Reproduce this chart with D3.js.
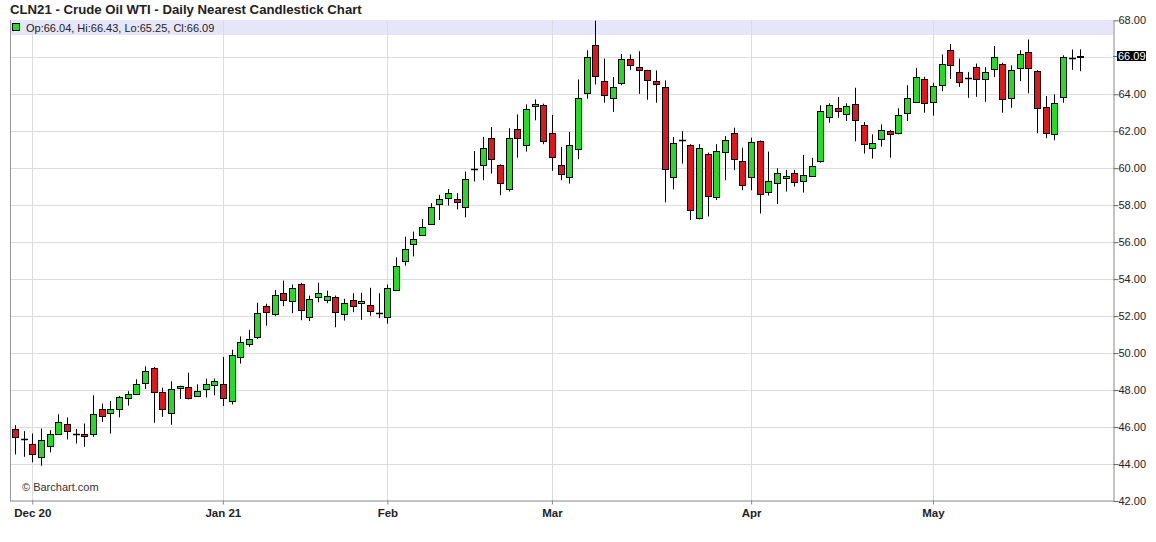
<!DOCTYPE html>
<html>
<head>
<meta charset="utf-8">
<script src="https://cdn.jsdelivr.net/npm/d3@7"></script>
<style>
  html, body { margin: 0; padding: 0; background: #fff; }
  svg { display: block; font-family: "Liberation Sans", Arial, sans-serif; }
</style>
</head>
<body>
<svg id="chart" width="1156" height="542"></svg>
<script>
// ---- Data ----
const dates = [
  "2020-11-27","2020-11-30",
  "2020-12-01","2020-12-02","2020-12-03","2020-12-04","2020-12-07","2020-12-08","2020-12-09","2020-12-10","2020-12-11",
  "2020-12-14","2020-12-15","2020-12-16","2020-12-17","2020-12-18","2020-12-21","2020-12-22","2020-12-23","2020-12-24",
  "2020-12-28","2020-12-29","2020-12-30","2020-12-31",
  "2021-01-04","2021-01-05","2021-01-06","2021-01-07","2021-01-08","2021-01-11","2021-01-12","2021-01-13","2021-01-14",
  "2021-01-15","2021-01-19","2021-01-20","2021-01-21","2021-01-22","2021-01-25","2021-01-26","2021-01-27","2021-01-28","2021-01-29",
  "2021-02-01","2021-02-02","2021-02-03","2021-02-04","2021-02-05","2021-02-08","2021-02-09","2021-02-10","2021-02-11","2021-02-12",
  "2021-02-16","2021-02-17","2021-02-18","2021-02-19","2021-02-22","2021-02-23","2021-02-24","2021-02-25","2021-02-26",
  "2021-03-01","2021-03-02","2021-03-03","2021-03-04","2021-03-05","2021-03-08","2021-03-09","2021-03-10","2021-03-11","2021-03-12",
  "2021-03-15","2021-03-16","2021-03-17","2021-03-18","2021-03-19","2021-03-22","2021-03-23","2021-03-24","2021-03-25","2021-03-26",
  "2021-03-29","2021-03-30","2021-03-31",
  "2021-04-01","2021-04-05","2021-04-06","2021-04-07","2021-04-08","2021-04-09","2021-04-12","2021-04-13","2021-04-14","2021-04-15",
  "2021-04-16","2021-04-19","2021-04-20","2021-04-21","2021-04-22","2021-04-23","2021-04-26","2021-04-27","2021-04-28","2021-04-29","2021-04-30",
  "2021-05-03","2021-05-04","2021-05-05","2021-05-06","2021-05-07","2021-05-10","2021-05-11","2021-05-12","2021-05-13","2021-05-14",
  "2021-05-17","2021-05-18","2021-05-19","2021-05-20","2021-05-21","2021-05-24","2021-05-25","2021-05-26"
];
const open = [
  45.89,45.35,
  45.06,44.36,44.95,45.60,46.14,45.62,45.60,45.65,46.95,46.73,46.95,47.58,47.81,48.40,49.21,47.92,46.79,48.08,48.17,47.70,48.08,48.30,
  48.35,47.38,49.81,50.51,50.88,52.54,52.13,53.26,52.83,53.74,51.94,53.02,52.88,53.06,52.13,52.88,52.72,52.61,52.16,
  51.96,53.42,54.98,55.90,56.42,57.01,58.08,58.38,58.33,57.88,59.98,60.16,61.62,60.16,58.87,62.10,61.24,63.35,63.40,
  61.89,60.16,59.53,61.03,64.10,66.64,64.69,63.76,64.62,65.88,65.50,65.29,64.69,64.37,59.53,61.54,61.24,57.34,60.76,58.45,60.88,61.89,60.38,
  59.48,61.47,58.74,59.19,59.46,59.73,59.32,59.55,60.36,62.75,63.24,62.91,63.45,62.32,61.06,61.62,62.01,61.89,62.95,63.61,64.80,
  63.54,64.48,66.37,65.18,64.86,65.50,64.83,65.37,65.66,63.76,65.43,66.27,65.25,63.29,61.84,63.81,65.97,66.04
];
const high = [
  46.10,45.78,
  45.65,45.92,45.83,46.69,46.52,45.90,46.19,47.72,47.27,47.41,47.68,47.94,48.58,49.28,49.25,48.13,48.47,48.24,48.94,48.31,48.62,48.62,
  49.79,50.18,50.90,51.26,52.72,52.67,53.42,53.92,53.71,53.80,53.11,53.81,53.38,53.11,52.94,53.24,53.26,53.53,53.24,
  53.70,55.18,56.30,56.57,57.25,58.11,58.56,58.87,58.65,59.82,60.93,61.69,62.23,60.22,62.16,62.91,63.45,63.72,63.49,
  62.88,61.15,61.96,64.80,66.38,67.98,65.93,64.93,66.18,66.15,66.33,65.32,65.29,64.75,61.69,62.01,61.30,61.30,60.84,61.30,61.74,62.19,61.11,
  61.65,61.50,60.90,60.00,59.91,59.91,60.72,60.56,63.40,63.51,63.85,63.51,64.35,62.50,61.83,62.37,62.07,63.24,64.49,65.43,64.94,
  64.62,66.15,66.72,65.93,65.21,65.66,65.46,66.61,65.70,65.56,66.38,66.96,65.30,63.90,63.99,66.11,66.42,66.43
];
const low = [
  44.52,44.39,
  44.09,43.91,44.63,45.58,45.33,45.11,44.93,45.47,46.28,45.65,46.52,47.16,47.76,48.06,46.23,46.55,46.12,47.52,47.49,47.63,47.60,47.72,
  47.14,47.22,49.43,50.33,50.76,51.48,52.00,52.54,52.16,51.78,51.73,52.75,52.70,51.40,51.76,52.21,51.80,52.02,51.89,
  51.59,53.40,54.73,55.23,56.39,56.98,57.20,57.98,57.77,57.34,59.28,59.35,59.71,58.54,58.74,60.57,60.90,62.59,61.30,
  59.86,59.35,59.17,60.49,63.76,64.53,63.54,63.05,64.49,65.32,64.02,63.70,63.54,58.15,58.85,60.25,57.20,57.23,57.39,58.28,59.35,59.89,58.81,
  58.81,57.55,58.52,58.06,58.74,59.01,58.68,59.53,60.30,62.46,62.73,62.55,61.46,60.79,60.52,61.17,60.57,61.83,62.55,63.58,63.00,
  62.84,64.17,64.83,64.40,63.81,63.86,63.59,64.93,63.00,63.27,64.71,64.05,61.89,61.62,61.51,63.54,65.32,65.25
];
const close = [
  45.47,45.35,
  44.52,45.28,45.60,46.25,45.76,45.62,45.49,46.73,46.59,46.95,47.60,47.81,48.35,49.05,47.92,47.00,48.08,48.21,47.60,47.97,48.35,48.51,
  47.60,49.89,50.62,50.78,52.18,52.21,53.15,52.88,53.53,52.34,52.94,53.26,53.10,52.23,52.72,52.54,52.83,52.27,52.16,
  53.53,54.72,55.63,56.17,56.83,57.91,58.33,58.65,58.17,59.41,59.98,61.08,60.49,59.19,61.62,61.62,63.18,63.45,61.46,
  60.59,59.68,61.24,63.78,66.04,64.96,63.94,64.37,65.93,65.56,65.34,64.75,64.53,59.96,61.35,61.54,57.74,61.11,58.51,60.93,61.53,60.50,59.08,
  61.40,58.60,59.32,59.73,59.57,59.25,59.62,60.11,63.09,63.40,63.08,63.35,62.59,61.30,61.35,62.08,61.83,62.86,63.78,64.96,63.51,
  64.42,65.61,65.56,64.62,64.86,64.83,65.23,66.00,63.76,65.29,66.20,65.43,63.27,61.89,63.51,65.99,65.97,66.09
];
const priceTicks = [42,44,46,48,50,52,54,56,58,60,62,64,66,68];
const monthStarts = ["2020-12-01","2021-01-04","2021-02-01","2021-03-01","2021-04-01","2021-05-03"];
const monthLabels = ["Dec 20","Jan 21","Feb","Mar","Apr","May"];
const titleText = "CLN21 - Crude Oil WTI - Daily Nearest Candlestick Chart";
const lastPrice = 66.09;

// ---- Layout ----
const svg = d3.select("#chart");
const plotLeft = 10, plotRight = 1113, plotTop = 20, plotBottom = 501;
const upColor = "#22dd22", downColor = "#e0161b";

const x = d3.scalePoint().domain(dates).range([15, 1080.2]);
const y = d3.scaleLinear().domain([42, 68]).range([plotBottom, plotTop + 0.3]);

const data = dates.map((d, i) => ({ d, o: open[i], h: high[i], l: low[i], c: close[i] }));

svg.append("rect").attr("width", 1156).attr("height", 542).attr("fill", "#fff");

// Title
svg.append("text").attr("x", 10).attr("y", 14)
  .attr("font-size", "13.2px").attr("font-weight", "bold").attr("fill", "#222")
  .text(titleText);

// Legend band
svg.append("rect").attr("x", plotLeft).attr("y", plotTop).attr("width", plotRight - plotLeft).attr("height", 15)
  .attr("fill", "#e6e6fb");

// Horizontal gridlines
svg.append("g").selectAll("line").data(priceTicks.filter(v => v > 42 && v < 68)).join("line")
  .attr("x1", plotLeft).attr("x2", plotRight)
  .attr("y1", v => Math.round(y(v)) + 0.5).attr("y2", v => Math.round(y(v)) + 0.5)
  .attr("stroke", "#dcdcdc").attr("stroke-width", 1);

// Vertical month gridlines
svg.append("g").selectAll("line").data(monthStarts).join("line")
  .attr("x1", d => Math.round(x(d)) + 0.5).attr("x2", d => Math.round(x(d)) + 0.5)
  .attr("y1", plotTop).attr("y2", plotBottom)
  .attr("stroke", "#dcdcdc").attr("stroke-width", 1);

// Left frame line
svg.append("line").attr("x1", plotLeft + 0.5).attr("x2", plotLeft + 0.5).attr("y1", plotTop).attr("y2", plotBottom)
  .attr("stroke", "#999");

// Copyright
svg.append("text").attr("x", 22).attr("y", 491).attr("font-size", "11px").attr("fill", "#333")
  .text("\u00A9 Barchart.com");

// Candles
const g = svg.append("g");
const cx = d => Math.round(x(d.d)) + 0.5;
g.selectAll("line.wick").data(data).join("line").attr("class", "wick")
  .attr("x1", cx).attr("x2", cx)
  .attr("y1", d => y(d.h)).attr("y2", d => y(d.l))
  .attr("stroke", "#000").attr("stroke-width", 1);

g.selectAll("rect.body").data(data.filter(d => d.o !== d.c)).join("rect").attr("class", "body")
  .attr("x", d => cx(d) - 3).attr("width", 6)
  .attr("y", d => Math.round(y(Math.max(d.o, d.c))) + 0.5)
  .attr("height", d => Math.max(1, Math.round(Math.abs(y(d.o) - y(d.c)))))
  .attr("fill", d => d.c > d.o ? upColor : downColor)
  .attr("stroke", "#000").attr("stroke-width", 1);

g.selectAll("line.doji").data(data.filter(d => d.o === d.c)).join("line").attr("class", "doji")
  .attr("x1", d => cx(d) - 3.5).attr("x2", d => cx(d) + 3.5)
  .attr("y1", d => Math.round(y(d.o)) + 0.5).attr("y2", d => Math.round(y(d.o)) + 0.5)
  .attr("stroke", "#000").attr("stroke-width", 1.5);

// Legend
svg.append("rect").attr("x", 12.5).attr("y", 23.5).attr("width", 7).attr("height", 7)
  .attr("fill", upColor).attr("stroke", "#000").attr("stroke-width", 1);
const last = data[data.length - 1];
svg.append("text").attr("x", 26).attr("y", 31.5).attr("font-size", "11px").attr("fill", "#222")
  .text(`Op:${last.o.toFixed(2)}, Hi:${last.h.toFixed(2)}, Lo:${last.l.toFixed(2)}, Cl:${last.c.toFixed(2)}`);

// Right axis
const yAxis = d3.axisRight(y).tickValues(priceTicks.filter(v => v !== 66))
  .tickFormat(d3.format(".2f")).tickSize(5).tickSizeOuter(0);
const ya = svg.append("g").attr("transform", `translate(${plotRight + 0.5},0)`).call(yAxis);
ya.select(".domain").attr("stroke", "#888");
ya.selectAll(".tick line").attr("stroke", "#666");
ya.selectAll(".tick text").attr("x", 5).attr("font-size", "11px").attr("fill", "#222")
  .attr("font-family", "Liberation Sans, Arial, sans-serif");

// Last price marker
const ly = Math.round(y(lastPrice));
svg.append("line").attr("x1", plotRight).attr("x2", plotRight + 5).attr("y1", ly + 0.5).attr("y2", ly + 0.5).attr("stroke", "#666");
svg.append("rect").attr("x", 1117).attr("y", ly - 5).attr("width", 29).attr("height", 10).attr("fill", "#000");
svg.append("text").attr("x", 1118).attr("y", ly + 4).attr("font-size", "11px").attr("fill", "#fff")
  .text(lastPrice.toFixed(2));

// Bottom axis
const xAxis = d3.axisBottom(x).tickValues(monthStarts)
  .tickFormat((d, i) => monthLabels[i]).tickSize(4).tickSizeOuter(0);
const xa = svg.append("g").attr("transform", `translate(0,${plotBottom - 0.5})`).call(xAxis);
xa.select(".domain").attr("d", `M${plotLeft},0.5H${plotRight + 1}`).attr("stroke", "#888");
xa.selectAll(".tick line").attr("stroke", "#888");
xa.selectAll(".tick text").attr("y", 8).attr("font-size", "11.5px").attr("font-weight", "bold").attr("fill", "#222")
  .attr("font-family", "Liberation Sans, Arial, sans-serif");
</script>
</body>
</html>
